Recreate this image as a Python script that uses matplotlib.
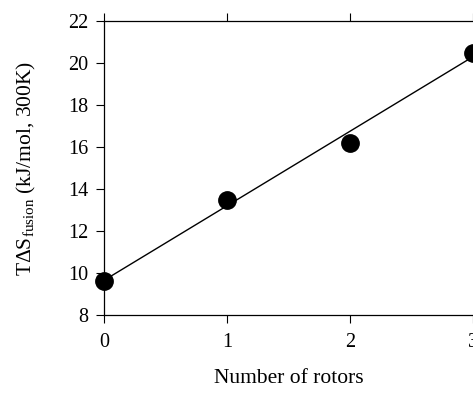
import numpy as np
from matplotlib import pyplot as plt

#Data ----------------------------------------------------------#
rotors = [0, 1, 2, 3]
tds_fusion = [9.6, 13.5, 16.2, 20.5]

#fitted line endpoints
fit_x = [0, 3]
fit_y = [9.65, 20.3]

xticks = [0, 1, 2, 3]
yticks = [8, 10, 12, 14, 16, 18, 20, 22]

#Plot setup ----------------------------------------------------#
plt.rcParams['font.family'] = ['Liberation Serif', 'DejaVu Serif']
plt.rcParams['mathtext.fontset'] = 'custom'
plt.rcParams['mathtext.rm'] = 'Liberation Serif'
plt.rcParams['mathtext.it'] = 'Liberation Serif:italic'

fig = plt.figure(figsize=(4.73, 3.96), dpi=100)
ax = fig.add_axes([104/473, 81/396, 1 - 104/473, 294/396])

ax.plot(fit_x, fit_y, color='black', lw=1.0, clip_on=False)
ax.plot(rotors, tds_fusion, 'o', color='black', ms=12.5, clip_on=False, zorder=3)

ax.set_xlim(0, 3)
ax.set_ylim(8, 22)
ax.set_xticks(xticks)
ax.set_yticks(yticks)
ax.tick_params(axis='both', direction='out', length=6, width=0.8,
               labelsize=14.5, colors='black')
ax.tick_params(axis='x', top=True, pad=7)
ax.tick_params(axis='y', pad=5)

ax.spines['right'].set_visible(False)
for s in ['left', 'bottom', 'top']:
    ax.spines[s].set_linewidth(0.9)

ax.set_xlabel('Number of rotors', fontsize=15.5, labelpad=12)
ax.set_ylabel(r'T$\Delta$S$_{\rm fusion}$ (kJ/mol, 300K)', fontsize=15.5, labelpad=22)

fig.savefig('out.png', dpi=100)
